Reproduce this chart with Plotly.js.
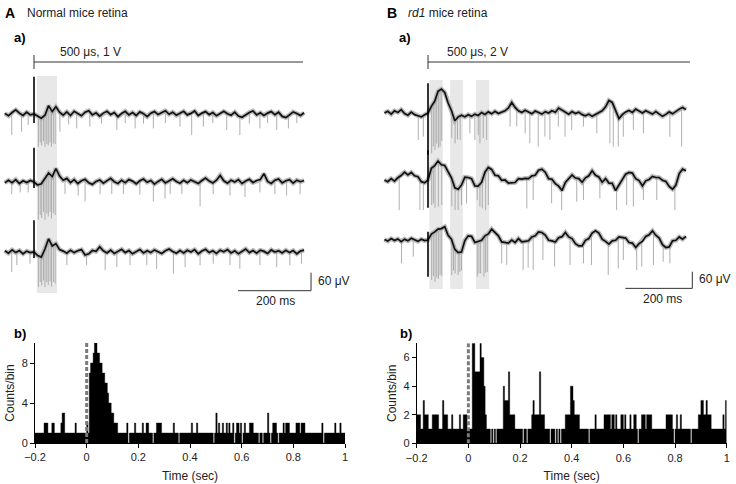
<!DOCTYPE html>
<html><head><meta charset="utf-8">
<script src="https://cdn.plot.ly/plotly-3.0.1.min.js"></script>
<style>html,body{margin:0;padding:0;background:#fff}#chart{width:736px;height:484px}</style>
</head><body><div id="chart"></div>
<script>
// ---------------- PSTH data: counts per 5 ms bin, from -0.2 s to 1.0 s ----------------
const binStart = -0.2;
const binWidth = 0.005;
const countsNormal = [
 1,1,1,1,1,1,1,2,2,2,1,1,1,2,2,1,1,1,1,1,
 2,3,3,1,1,1,1,1,1,1,1,2,1,1,1,1,1,1,1,1,
 2,1,7,8,8,9,10,10,9,9,8,8,7,7,6,6,5,4,4,3,
 3,2,2,2,1,1,1,1,1,1,1,2,0,1,1,1,1,2,1,1,
 1,1,1,2,1,1,2,2,1,1,1,0,1,1,2,2,2,2,1,1,
 1,1,1,1,1,1,1,2,1,1,1,0,1,1,1,1,1,1,1,1,
 1,2,1,1,1,2,1,1,1,1,1,1,1,1,1,1,1,1,0,1,
 3,1,2,1,1,2,1,1,2,1,2,1,1,2,0,1,2,2,1,2,
 0,1,2,1,1,1,2,2,2,1,1,1,1,0,1,1,0,1,1,1,
 3,1,0,1,2,2,2,1,0,1,1,1,2,1,2,2,2,1,1,1,
 1,1,2,2,2,1,2,2,2,1,1,1,1,1,1,1,1,1,1,1,
 1,1,2,0,1,1,1,1,1,1,1,1,2,1,1,1,2,1,1,1
];
const countsRd1 = [
 2,2,2,1,1,3,2,2,2,1,1,1,2,2,2,2,2,1,1,1,
 3,2,2,2,1,1,1,2,1,1,1,1,1,2,1,1,2,2,2,1,
 1,1,1,7,7,5,5,5,5,7,6,6,4,2,1,1,1,0,1,0,
 1,0,1,1,1,1,1,4,3,3,3,5,2,2,2,2,1,1,1,1,
 1,1,0,1,1,0,1,1,1,2,3,2,2,2,2,5,2,2,2,1,
 1,1,1,0,1,1,1,0,1,0,1,0,1,1,1,2,2,2,2,4,
 4,3,2,2,2,2,1,1,1,1,1,1,1,0,1,1,1,1,2,1,
 1,1,1,1,1,2,2,2,2,2,1,2,2,1,2,1,1,1,2,2,
 1,2,1,1,1,2,1,1,2,2,1,0,1,1,2,2,2,1,2,2,
 2,2,1,1,1,1,1,1,1,1,1,1,1,2,2,2,2,2,1,0,
 1,2,1,1,2,1,1,1,1,1,1,1,0,1,1,1,1,1,2,2,
 3,3,2,2,3,2,2,2,1,1,1,1,1,1,1,1,1,2,1,3
];
const histXTicks = [-0.2, 0, 0.2, 0.4, 0.6, 0.8, 1];
const yTicksNormal = [0, 4, 8];
const yTicksRd1 = [0, 2, 4, 6];
const yMaxNormal = 10, yMaxRd1 = 7;

// ---------------- raw traces (µV), one sample every 10 ms ----------------
const traceStep = 10;
const startNormal = -80;   // ms
const startRd1 = -130;     // ms
const normal1 = [2,-6,5,14,3,-5,6,-3,
 0,-8,-14,-4,28,8,24,6,-4,7,
 -5,9,0,-6,6,11,-3,4,-7,3,
 9,-2,5,-9,2,9,-3,5,-5,7,
 1,-9,3,8,-2,5,11,-1,6,-4,
 3,9,-3,2,10,-5,3,8,-2,5,
 -6,2,9,1,-4,6,-7,-11,-2,5,
 10,-3,4,-5,3,8,-2,6,-8,-12,
 -3,7,2,-5,4];
const normal2 = [-3,6,-2,8,-5,4,-2,5,
 0,-10,-6,12,30,18,45,20,6,12,
 -2,8,-5,4,9,-3,-8,2,7,-4,
 5,12,1,-5,6,-2,8,3,-6,4,
 10,-1,5,-7,2,9,-3,4,11,2,
 -4,6,-2,7,1,-5,5,13,3,-3,
 6,22,4,-4,6,0,8,-5,3,9,
 -2,5,8,28,2,-5,6,10,-3,4,
 8,-4,6,1,5];
const normal3 = [4,-4,7,-2,5,-6,3,-2,
 0,-12,-17,10,44,20,28,8,3,-4,
 6,-2,4,8,-10,-6,5,2,17,4,
 -3,6,-5,3,9,-2,5,-6,2,8,
 -3,4,-2,7,1,-5,4,10,2,-4,
 5,-3,6,0,8,-6,3,9,-2,4,
 -5,6,1,8,-3,4,-6,3,10,-2,
 5,-4,6,2,-5,7,0,4,-3,6,
 -2,5,-6,3,6];
const rd1_1 = [0,6,-4,8,2,12,-2,-8,3,-6,-10,-14,-6,
 0,24,42,78,86,74,36,9,-28,-14,
 -8,-14,-6,-12,-4,-9,2,-5,4,-3,
 6,-2,3,8,18,38,20,8,2,10,
 4,-3,7,1,-4,5,0,8,3,18,
 10,2,-4,5,-2,3,-6,-10,-4,-12,
 -6,2,8,22,45,38,10,-20,-6,4,
 9,2,14,6,0,8,3,-4,5,-2,
 -12,-5,4,-3,6,14,20,12];
const rd1_2 = [0,-6,5,-4,8,16,28,18,27,15,12,-6,-10,
 0,42,52,68,55,52,27,8,-28,-33,
 -18,10,9,5,-21,-22,-8,28,45,38,
 17,15,-1,0,-11,-9,-9,5,3,6,
 5,15,17,35,39,28,5,3,-13,-22,
 -38,-9,5,18,7,5,-8,8,15,33,
 17,11,-8,5,-11,-12,-38,-17,2,21,
 27,25,5,-2,-21,-3,2,13,9,9,
 -1,-5,-23,-33,-18,23,39,33];
const rd1_3 = [2,-4,5,-2,4,-6,3,-3,6,0,-5,3,-2,
 0,21,29,39,41,48,17,3,-33,-45,
 -43,-2,15,13,-9,-5,-1,15,22,39,
 27,15,-7,-9,-11,0,-9,5,-7,-5,
 -3,11,15,29,27,18,-1,-3,-7,8,
 12,27,11,5,-13,-21,-21,-1,5,25,
 33,25,3,-5,-15,-3,-1,11,9,7,
 -9,-11,-27,-13,-5,13,19,33,17,7,
 -17,-27,-25,-3,-1,11,3,13];

// spikes of superimposed sweeps: time (ms) and lowest value (µV)
const spikeTNormal1 = [-61,-34,-16,12,17,21,26,30,35,39,44,48,53,58,71,95,117,153,185,227,250,277,300,327,360,400,432,464,490,528,564,590,619,640,665,697,720];
const spikeVNormal1 = [-70,-59,-37,-109,-95,-105,-90,-109,-100,-105,-95,-109,-98,-100,-59,-35,-48,-42,-32,-53,-30,-48,-32,-48,-30,-42,-70,-42,-30,-53,-70,-32,-48,-30,-53,-48,-30];
const spikeTNormal2 = [-61,-38,-16,12,17,21,26,30,35,39,44,48,53,58,85,121,140,181,213,245,290,327,359,373,405,455,491,537,578,619,660,692,729];
const spikeVNormal2 = [-40,-35,-35,-126,-110,-120,-100,-126,-105,-115,-100,-122,-104,-110,-40,-45,-65,-40,-40,-40,-42,-65,-55,-40,-40,-81,-40,-45,-50,-35,-40,-45,-40];
const spikeTNormal3 = [-61,-47,-11,12,17,21,26,30,35,39,44,48,53,58,90,144,195,227,263,309,336,382,414,455,491,537,564,619,665,701,733];
const spikeVNormal3 = [-67,-44,-39,-117,-100,-112,-95,-117,-100,-110,-98,-115,-100,-105,-44,-44,-61,-50,-44,-44,-56,-72,-50,-44,-39,-44,-56,-44,-50,-44,-39];
const spikeTRd1_1 = [-29,-14,11,16,21,26,31,36,41,71,81,88,96,125,140,150,155,165,175,245,265,290,304,329,349,364,389,409,429,464,504,543,553,568,583,613,643,722,757];
const spikeVRd1_1 = [-97,-85,-145,-120,-133,-110,-125,-121,-100,-90,-109,-95,-97,-73,-97,-80,-109,-90,-97,-49,-49,-73,-109,-121,-85,-97,-49,-85,-61,-49,-73,-109,-121,-121,-85,-61,-73,-85,-121];
const spikeTRd1_2 = [-86,-24,-14,11,16,21,31,41,71,81,90,100,115,147,155,162,172,180,295,314,369,399,444,464,513,563,593,613,643,683,737];
const spikeVRd1_2 = [-108,-108,-108,-90,-84,-100,-96,-90,-95,-108,-108,-90,-84,-72,-95,-102,-108,-90,-102,-72,-84,-108,-78,-72,-66,-108,-90,-96,-72,-72,-108];
const spikeTRd1_3 = [-79,-44,11,16,21,26,31,36,41,71,76,81,90,95,100,147,152,157,167,172,177,220,235,284,299,314,343,378,424,464,488,538,568,583,623,638,673,702,722];
const spikeVRd1_3 = [-84,-60,-144,-130,-150,-135,-140,-125,-130,-126,-110,-120,-126,-115,-110,-132,-120,-120,-132,-118,-115,-84,-90,-108,-100,-108,-72,-96,-90,-84,-90,-126,-102,-72,-108,-96,-90,-78,-84];

// stimulus artifact extent [top, bottom] in µV
const artifactNormal = [[124,-30],[114,-20],[106,-20]];
const artifactRd1 = [[107,-150],[107,-100],[30,-132]];

// analysis windows (ms) shaded grey
const windowsNormal = [[8,63]];
const windowsRd1 = [[4,44],[66,104],[143,183]];
const stimTrainNormal = 737, stimTrainRd1 = 782;   // ms
const scaleBarMs = 200, scaleBarUv = 60;

// ---------------- layout helpers (pixels -> paper) ----------------
const W = 736, H = 484;
const px = p => p / W;
const py = p => 1 - p / H;
const FONT = 'Liberation Sans, Arial, Helvetica, sans-serif';
const panA = {stim:34, msPx:0.365, uvPx:0.3, base:[114,182,252], left:0, right:360, xa:'x3', ya:['y3','y4','y5']};
const panB = {stim:428, msPx:0.335, uvPx:0.278, base:[113,180,240], left:370, right:736, xa:'x4', ya:['y6','y7','y8']};
const laneH = 100;

const data = [];

function histTrace(counts, xa, ya) {
  const x = [], y = [];
  counts.forEach((c, i) => { x.push(binStart + i * binWidth); y.push(c); });
  x.push(binStart + counts.length * binWidth); y.push(counts[counts.length - 1]);
  return {x, y, xaxis: xa, yaxis: ya, type: 'scatter', mode: 'lines',
    line: {shape: 'hv', color: '#000', width: 0.4}, fill: 'tozeroy', fillcolor: '#000',
    hoverinfo: 'skip', showlegend: false};
}
data.push(histTrace(countsNormal, 'x', 'y'));
data.push(histTrace(countsRd1, 'x2', 'y2'));

function addRecording(vals, t0, spT, spV, art, xa, ya) {
  const t = vals.map((v, i) => t0 + i * traceStep);
  const at = tt => {
    const f = (tt - t0) / traceStep;
    const i = Math.max(0, Math.min(vals.length - 2, Math.floor(f)));
    const r = Math.max(0, Math.min(1, f - i));
    return vals[i] * (1 - r) + vals[i + 1] * r;
  };
  const common = {xaxis: xa, yaxis: ya, type: 'scatter', mode: 'lines', hoverinfo: 'skip', showlegend: false};
  data.push(Object.assign({x: t, y: vals, line: {color: '#b9b9b9', width: 4.5}}, common));
  const sx = [], sy = [];
  spT.forEach((tt, k) => { sx.push(tt, tt, null); sy.push(at(tt), spV[k], null); });
  data.push(Object.assign({x: sx, y: sy, line: {color: '#a6a6a6', width: 0.9}}, common));
  data.push(Object.assign({x: t, y: vals, line: {color: '#111', width: 1.7}}, common));
  data.push(Object.assign({x: [0, 0], y: [art[1], art[0]], line: {color: '#000', width: 1.6}}, common));
}
addRecording(normal1, startNormal, spikeTNormal1, spikeVNormal1, artifactNormal[0], panA.xa, panA.ya[0]);
addRecording(normal2, startNormal, spikeTNormal2, spikeVNormal2, artifactNormal[1], panA.xa, panA.ya[1]);
addRecording(normal3, startNormal, spikeTNormal3, spikeVNormal3, artifactNormal[2], panA.xa, panA.ya[2]);
addRecording(rd1_1, startRd1, spikeTRd1_1, spikeVRd1_1, artifactRd1[0], panB.xa, panB.ya[0]);
addRecording(rd1_2, startRd1, spikeTRd1_2, spikeVRd1_2, artifactRd1[1], panB.xa, panB.ya[1]);
addRecording(rd1_3, startRd1, spikeTRd1_3, spikeVRd1_3, artifactRd1[2], panB.xa, panB.ya[2]);

const tickFont = {family: FONT, size: 11, color: '#222'};
const titleFont = {family: FONT, size: 12, color: '#222'};
function histX(domain, anchor) {
  return {domain, anchor, range: [-0.2, 1], tickvals: histXTicks, showline: true, linecolor: '#000', linewidth: 1,
    ticks: 'outside', ticklen: 4, tickcolor: '#000', tickfont: tickFont, showgrid: false, zeroline: false,
    automargin: false, fixedrange: true, title: {text: 'Time (sec)', font: titleFont, standoff: 9}};
}
function histY(domain, anchor, ymax, tv) {
  return {domain, anchor, range: [0, ymax], tickvals: tv, showline: true, linecolor: '#000', linewidth: 1,
    ticks: 'outside', ticklen: 4, tickcolor: '#000', tickfont: tickFont, showgrid: false, zeroline: false,
    automargin: false, fixedrange: true, title: {text: 'Counts/bin', font: titleFont, standoff: 4}};
}
const hidden = {visible: false, showgrid: false, zeroline: false, fixedrange: true, automargin: false};

const layout = {
  width: W, height: H, margin: {l: 0, r: 0, t: 0, b: 0, pad: 0},
  paper_bgcolor: '#fff', plot_bgcolor: 'rgba(0,0,0,0)', showlegend: false,
  font: {family: FONT, color: '#222'},
  xaxis: histX([px(35), px(345)], 'y'),
  yaxis: histY([py(443), py(343)], 'x', yMaxNormal, yTicksNormal),
  xaxis2: histX([px(416.7), px(726.7)], 'y2'),
  yaxis2: histY([py(443.3), py(343.3)], 'x2', yMaxRd1, yTicksRd1),
  shapes: [], annotations: []
};

function setupPanel(p, xkey, ykeys, windows, train) {
  layout[xkey] = Object.assign({domain: [px(p.left), px(p.right)],
    range: [(p.left - p.stim) / p.msPx, (p.right - p.stim) / p.msPx], anchor: p.ya[0]}, hidden);
  p.base.forEach((b, k) => {
    layout[ykeys[k]] = Object.assign({domain: [py(b + laneH / 2), py(b - laneH / 2)],
      range: [-laneH / 2 / p.uvPx, laneH / 2 / p.uvPx], anchor: p.xa}, hidden);
  });
  const top = p === panA ? 76 : 80, bot = p === panA ? 293 : 289;
  windows.forEach(w => layout.shapes.push({type: 'rect', xref: p.xa, yref: 'paper', x0: w[0], x1: w[1],
    y0: py(bot), y1: py(top), fillcolor: '#e8e8e8', line: {width: 0}, layer: 'below'}));
  layout.shapes.push({type: 'line', xref: p.xa, yref: 'paper', x0: 0, x1: train, y0: py(62), y1: py(62), line: {color: '#333', width: 1}});
  layout.shapes.push({type: 'line', xref: p.xa, yref: 'paper', x0: 0, x1: 0, y0: py(55), y1: py(69), line: {color: '#333', width: 1}});
}
setupPanel(panA, 'xaxis3', ['yaxis3', 'yaxis4', 'yaxis5'], windowsNormal, stimTrainNormal);
setupPanel(panB, 'xaxis4', ['yaxis6', 'yaxis7', 'yaxis8'], windowsRd1, stimTrainRd1);

function scaleBar(xa, ya, tEnd, vBot) {
  layout.shapes.push({type: 'line', xref: xa, yref: ya, x0: tEnd - scaleBarMs, x1: tEnd, y0: vBot, y1: vBot, line: {color: '#333', width: 1}});
  layout.shapes.push({type: 'line', xref: xa, yref: ya, x0: tEnd, x1: tEnd, y0: vBot, y1: vBot + scaleBarUv, line: {color: '#333', width: 1}});
}
scaleBar('x3', 'y5', 759, -129);
scaleBar('x4', 'y8', 789, -174);

layout.shapes.push({type: 'line', xref: 'x', yref: 'y', x0: 0, x1: 0, y0: 0, y1: yMaxNormal, line: {color: '#7a7a7a', width: 3, dash: '4px,2px'}, layer: 'above'});
layout.shapes.push({type: 'line', xref: 'x2', yref: 'y2', x0: 0, x1: 0, y0: 0, y1: yMaxRd1, line: {color: '#7a7a7a', width: 3, dash: '4px,2px'}, layer: 'above'});

function note(text, x, y, size, anchor, bold) {
  layout.annotations.push({text: bold ? '<b>' + text + '</b>' : text, x: px(x), y: py(y), xref: 'paper', yref: 'paper',
    xanchor: anchor || 'left', yanchor: 'middle', showarrow: false,
    font: {family: FONT, size: size, color: bold ? '#000' : '#222'}});
}
note('A', 3, 13, 14, 'left', true);
note('Normal mice retina', 25, 13, 12);
note('a)', 12, 38, 13, 'left', true);
note('B', 385, 13, 14, 'left', true);
note('<i>rd1</i> mice retina', 406, 13, 12);
note('a)', 397, 38, 13, 'left', true);
note('b)', 12, 333, 13, 'left', true);
note('b)', 398, 333, 13, 'left', true);
note('500 μs, 1 V', 58, 52, 12);
note('500 μs, 2 V', 445, 52, 12);
note('60 μV', 316, 281, 12);
note('60 μV', 697, 279, 12);
note('200 ms', 275, 301, 12, 'center');
note('200 ms', 662, 299, 12, 'center');

Plotly.newPlot('chart', data, layout, {staticPlot: true, displayModeBar: false});
</script>
</body></html>
